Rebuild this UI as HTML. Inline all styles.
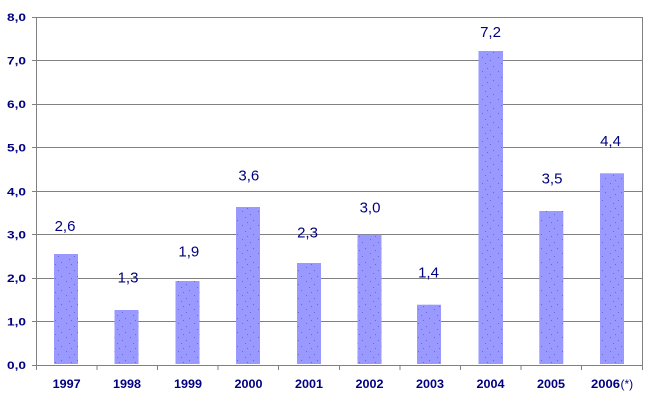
<!DOCTYPE html>
<html>
<head>
<meta charset="utf-8">
<style>
html,body{margin:0;padding:0;background:#fff;}
svg{display:block;}
text{font-family:"Liberation Sans",Arial,sans-serif;fill:#000080;}
</style>
</head>
<body>
<svg width="649" height="404" viewBox="0 0 649 404" xmlns="http://www.w3.org/2000/svg">
<defs>
<pattern id="dots" width="16" height="14" patternUnits="userSpaceOnUse">
<rect width="16" height="14" fill="#9999ff"/>
<rect x="2" y="1" width="1" height="1" fill="#6a6ac8"/>
<rect x="10" y="4" width="1" height="1" fill="#6a6ac8"/>
<rect x="5" y="7" width="1" height="1" fill="#6a6ac8"/>
<rect x="13" y="10" width="1" height="1" fill="#6a6ac8"/>
<rect x="7" y="12" width="1" height="1" fill="#6a6ac8"/>
</pattern>
</defs>
<rect width="649" height="404" fill="#fff"/>
<g stroke="#808080" stroke-width="1" fill="none">
<line x1="32" y1="17.5" x2="642" y2="17.5"/>
<line x1="32" y1="60.5" x2="642" y2="60.5"/>
<line x1="32" y1="104.5" x2="642" y2="104.5"/>
<line x1="32" y1="147.5" x2="642" y2="147.5"/>
<line x1="32" y1="191.5" x2="642" y2="191.5"/>
<line x1="32" y1="234.5" x2="642" y2="234.5"/>
<line x1="32" y1="278.5" x2="642" y2="278.5"/>
<line x1="32" y1="321.5" x2="642" y2="321.5"/>
<line x1="32" y1="365.5" x2="642.5" y2="365.5"/>
<line x1="36.5" y1="17" x2="36.5" y2="370"/>
<line x1="642.5" y1="17" x2="642.5" y2="370"/>
<line x1="97" y1="365" x2="97" y2="370"/>
<line x1="157.5" y1="365" x2="157.5" y2="370"/>
<line x1="218" y1="365" x2="218" y2="370"/>
<line x1="278.5" y1="365" x2="278.5" y2="370"/>
<line x1="339.5" y1="365" x2="339.5" y2="370"/>
<line x1="400" y1="365" x2="400" y2="370"/>
<line x1="460.5" y1="365" x2="460.5" y2="370"/>
<line x1="521" y1="365" x2="521" y2="370"/>
<line x1="581.5" y1="365" x2="581.5" y2="370"/>
</g>
<g fill="url(#dots)">
<rect x="54" y="254" width="24" height="110"/>
<rect x="114.5" y="310" width="24" height="54"/>
<rect x="175.5" y="281" width="24" height="83"/>
<rect x="236" y="207" width="24" height="157"/>
<rect x="297" y="263" width="24" height="101"/>
<rect x="357.5" y="234.7" width="24" height="129.3"/>
<rect x="417" y="304.7" width="24" height="59.3"/>
<rect x="478.5" y="51" width="24.5" height="313"/>
<rect x="539.3" y="211" width="24" height="153"/>
<rect x="600" y="173.3" width="24" height="190.7"/>
</g>
<g font-size="11" font-weight="bold" text-anchor="end">
<text x="26" y="21" textLength="19" lengthAdjust="spacingAndGlyphs">8,0</text>
<text x="26" y="64.5" textLength="19" lengthAdjust="spacingAndGlyphs">7,0</text>
<text x="26" y="108" textLength="19" lengthAdjust="spacingAndGlyphs">6,0</text>
<text x="26" y="151.5" textLength="19" lengthAdjust="spacingAndGlyphs">5,0</text>
<text x="26" y="195.5" textLength="19" lengthAdjust="spacingAndGlyphs">4,0</text>
<text x="26" y="238.5" textLength="19" lengthAdjust="spacingAndGlyphs">3,0</text>
<text x="26" y="282" textLength="19" lengthAdjust="spacingAndGlyphs">2,0</text>
<text x="26" y="325.5" textLength="19" lengthAdjust="spacingAndGlyphs">1,0</text>
<text x="26" y="369" textLength="19" lengthAdjust="spacingAndGlyphs">0,0</text>
</g>
<g font-size="12" font-weight="bold">
<text x="52.7" y="388" textLength="28" lengthAdjust="spacingAndGlyphs">1997</text>
<text x="113" y="388" textLength="28" lengthAdjust="spacingAndGlyphs">1998</text>
<text x="174" y="388" textLength="28" lengthAdjust="spacingAndGlyphs">1999</text>
<text x="234.5" y="388" textLength="28" lengthAdjust="spacingAndGlyphs">2000</text>
<text x="295" y="388" textLength="28" lengthAdjust="spacingAndGlyphs">2001</text>
<text x="355.5" y="388" textLength="28" lengthAdjust="spacingAndGlyphs">2002</text>
<text x="416" y="388" textLength="28" lengthAdjust="spacingAndGlyphs">2003</text>
<text x="476.5" y="388" textLength="28" lengthAdjust="spacingAndGlyphs">2004</text>
<text x="537" y="388" textLength="28" lengthAdjust="spacingAndGlyphs">2005</text>
<text x="591" y="388" textLength="29" lengthAdjust="spacingAndGlyphs">2006</text>
<text x="620.5" y="388" font-weight="normal" font-size="12">(*)</text>
</g>
<g font-size="15" text-anchor="middle">
<text x="65" y="231">2,6</text>
<text x="128" y="282.7">1,3</text>
<text x="188.8" y="256.7">1,9</text>
<text x="248.8" y="180.3">3,6</text>
<text x="307.5" y="237.3">2,3</text>
<text x="370" y="212.3">3,0</text>
<text x="428.5" y="277.7">1,4</text>
<text x="490.5" y="37">7,2</text>
<text x="552" y="183.3">3,5</text>
<text x="610.5" y="146">4,4</text>
</g>
</svg>
</body>
</html>
